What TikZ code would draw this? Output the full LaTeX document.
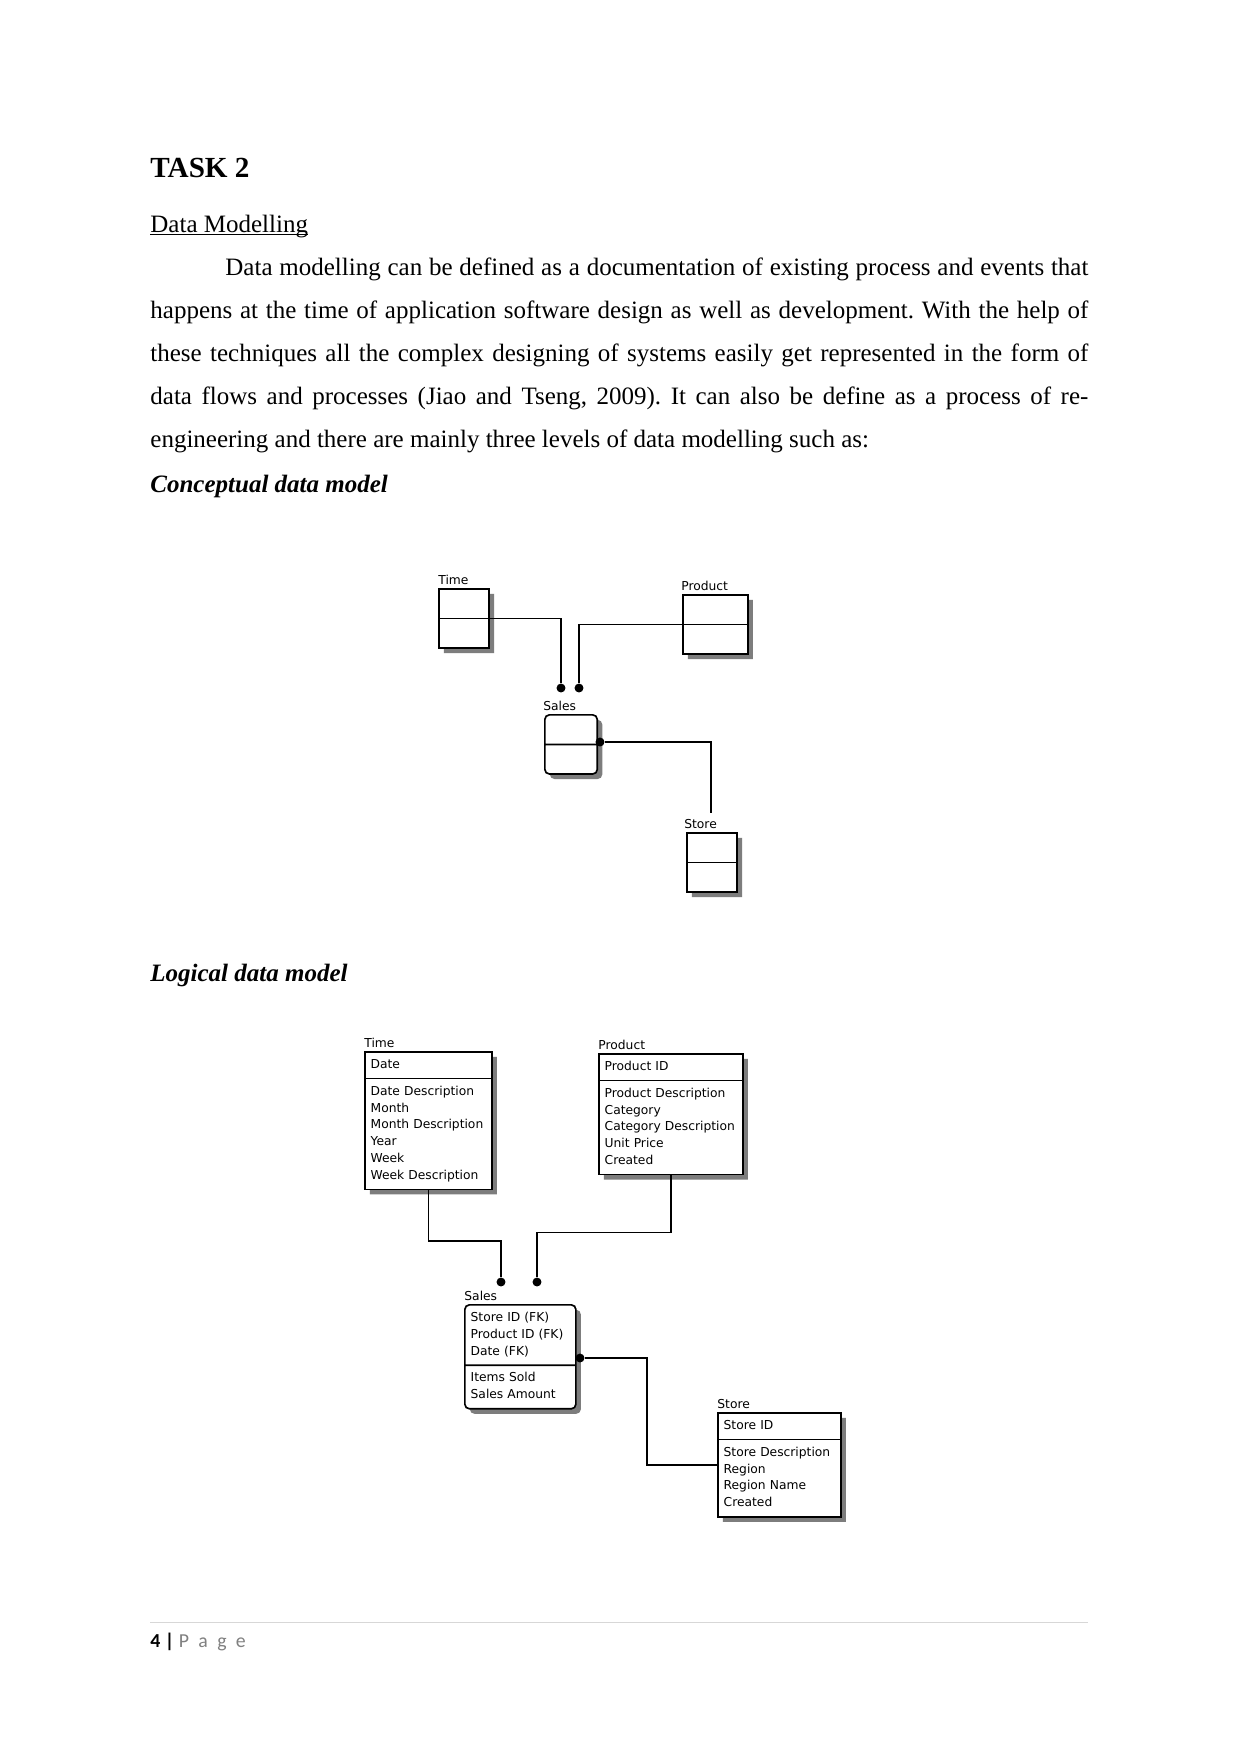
\documentclass[tikz,border=0pt]{standalone}
\usepackage{fontspec}
\setmainfont{Liberation Serif}
\newfontfamily\erfont{DejaVu Sans}
\newfontfamily\footfont{Carlito}
\usepackage{xcolor}
\definecolor{shadegray}{RGB}{125,125,125}
\definecolor{rulegray}{RGB}{215,215,215}
\definecolor{pagegray}{RGB}{128,128,128}
\usetikzlibrary{shapes.multipart, shadows, positioning}
\newcommand{\ulined}[1]{\setbox0\hbox{#1}\rlap{\rule[-1.5bp]{\wd0}{0.6bp}}\box0}

\begin{document}
\begin{tikzpicture}[x=0.48bp, y=-0.48bp,
        heading/.style={anchor=base west, inner sep=0pt, font=\fontsize{14bp}{17bp}\selectfont\bfseries},
        body/.style={anchor=base west, inner sep=0pt, font=\fontsize{12bp}{20.7bp}\selectfont},
        subhead/.style={body, font=\fontsize{12bp}{20.7bp}\selectfont\bfseries\itshape},
        entity/.style={rectangle split, rectangle split parts=2, draw, line width=0.8bp, fill=white, anchor=north west, inner xsep=2.8bp, inner ysep=2bp, align=left, font=\erfont\fontsize{5.9bp}{8.06bp}\selectfont, general shadow={fill=shadegray, shadow xshift=2.4bp, shadow yshift=-2.4bp}},
        cbox/.style={entity, inner sep=0pt, rectangle split empty part height=13.4bp, rectangle split empty part depth=0pt},
        lbl/.style={inner sep=0pt, font=\erfont\fontsize{5.9bp}{8bp}\selectfont},
        dot/.style={circle, fill, inner sep=0pt, minimum size=4.3bp},
        line/.style={draw, line width=0.8bp}]

    % page
    \fill[white] (0,0) rectangle (1241,1754);
    \useasboundingbox (0,0) rectangle (1241,1754);

    \node [heading] (task) at (150,177) {TASK 2};
    \node [body] (dmtitle) at (150,232) {\ulined{Data Modelling}};
    \node [body, text width=450.24bp, align=justify] (para) at (150,275) {\frenchspacing\hyphenpenalty=10000\hspace*{36bp}Data modelling can be defined as a documentation of existing process and events that\linebreak happens at the time of application software design as well as development. With the help of\linebreak these techniques all the complex designing of systems easily get represented in the form of\linebreak data flows and processes (Jiao and Tseng, 2009). It can also be define as a process of re-\linebreak engineering and there are mainly three levels of data modelling such as:};
    \node [subhead] (cdm) at (150,492) {Conceptual data model};

    % conceptual model
    \node [cbox, rectangle split empty part width=19.6bp] (ctime) at (438,588) {\nodepart{two}};
    \node [cbox, rectangle split empty part width=26.6bp] (cprod) at (682,594) {\nodepart{two}};
    \node [cbox, rounded corners=2.2bp, rectangle split empty part width=20.6bp] (csales) at (544,714) {\nodepart{two}};
    \node [cbox, rectangle split empty part width=19.6bp] (cstore) at (686,832) {\nodepart{two}};

    \node [lbl, above right=1.2bp and 0bp of ctime.north west] (ctimel) {Time};
    \node [lbl, above right=1.2bp and -0.5bp of cprod.north west] (cprodl) {Product};
    \node [lbl, above right=1.2bp and -0.5bp of csales.north west] (csalesl) {Sales};
    \node [lbl, above right=1.2bp and -1bp of cstore.north west] (cstorel) {Store};

    \node [dot] (cdott) at (561,688) {};
    \node [dot] (cdotp) at (579,688) {};
    \node [dot] (cdots) at (600,742) {};
    \coordinate (cend) at (711,813);

    \path [line] (ctime.east) -| (cdott);
    \path [line] (cprod.west) -| (cdotp);
    \path [line] (cdots) -| (cend);

    \node [subhead] (ldm) at (150,981) {Logical data model};

    % logical model
    \node [entity, text width=55.4bp] (ltime) at (364,1051) {\strut Date\nodepart{two}\strut Date Description\\Month\\Month Description\\Year\\Week\\Week Description\strut};
    \node [entity, text width=63.5bp] (lprod) at (598,1053) {\strut Product ID\nodepart{two}\strut Product Description\\Category\\Category Description\\Unit Price\\Created\strut};
    \node [entity, rounded corners=2.2bp, text width=47.7bp] (lsales) at (464,1304) {\strut Store ID (FK)\\Product ID (FK)\\Date (FK)\strut\nodepart{two}\strut Items Sold\\Sales Amount\strut};
    \node [entity, text width=53.4bp] (lstore) at (717,1412) {\strut Store ID\nodepart{two}\strut Store Description\\Region\\Region Name\\Created\strut};

    \node [lbl, above right=1.2bp and 0bp of ltime.north west] (ltimel) {Time};
    \node [lbl, above right=1.2bp and 0bp of lprod.north west] (lprodl) {Product};
    \node [lbl, above right=1.2bp and 0bp of lsales.north west] (lsalesl) {Sales};
    \node [lbl, above right=1.2bp and 0bp of lstore.north west] (lstorel) {Store};

    \node [dot] (ldott) at (501,1282) {};
    \node [dot] (ldotp) at (537,1282) {};
    \node [dot] (ldots) at (580,1358) {};

    \path [line] (ltime.south) -- ++(0,51) -| (ldott);
    \path [line] (lprod.south) -- ++(0,57) -| (ldotp);
    \path [line] (ldots) -- ++(67,0) |- (lstore.west);

    % footer
    \draw [rulegray, line width=0.5bp] (150,1622) -- (1088,1622);
    \node [anchor=base west, inner sep=0pt, font=\footfont\fontsize{9.5bp}{11bp}\selectfont] (pageno) at (150,1647) {\textbf{4 |} \textcolor{pagegray}{P\hspace{4.5bp}a\hspace{4.5bp}g\hspace{4.5bp}e}};
\end{tikzpicture}
\end{document}
